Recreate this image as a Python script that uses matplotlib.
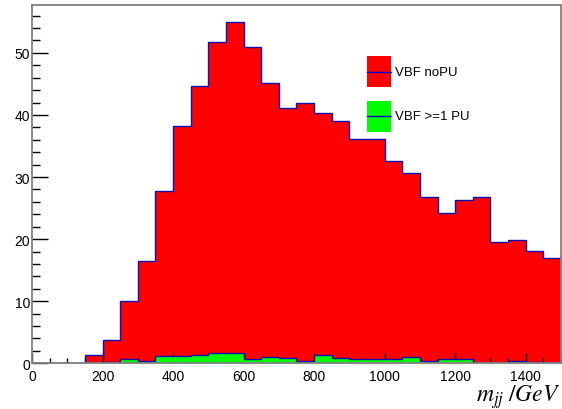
import numpy as np
import matplotlib
matplotlib.use("Agg")
import matplotlib.pyplot as plt
from matplotlib.ticker import MultipleLocator
from matplotlib.patches import Rectangle
from matplotlib.lines import Line2D

# ---- data ----
bin_edges = np.arange(0, 1501, 50)
vbf_nopu = [0, 0, 0.1, 1.4, 3.8, 10.1, 16.5, 27.7, 38.2, 44.6,
            51.7, 55.0, 50.9, 45.2, 41.1, 41.9, 40.3, 39.0, 36.1, 36.2,
            32.6, 30.7, 26.8, 24.2, 26.3, 26.8, 19.6, 19.9, 18.1, 17.0]
vbf_pu = [0, 0, 0, 0, 0.2, 0.7, 0.35, 1.2, 1.2, 1.3,
          1.7, 1.6, 0.65, 1.0, 0.85, 0.4, 1.35, 0.85, 0.7, 0.7,
          0.7, 1.0, 0.4, 0.7, 0.7, 0, 0, 0.4, 0.2, 0]
legend_labels = ["VBF noPU", "VBF >=1 PU"]
xlabel = r"$m_{jj}\;/GeV$"

plt.rcParams['font.family'] = ['Liberation Sans', 'DejaVu Sans']
plt.rcParams['mathtext.fontset'] = 'stix'

fig = plt.figure(figsize=(5.62, 4.10), dpi=100)
ax = fig.add_axes([32/562, 1-364.3/410, (561-32)/562, (364.3-5.7)/410])

edge_col = '#1010b0'
ax.stairs(vbf_nopu, bin_edges, fill=True, facecolor='#ff0000', edgecolor='none', zorder=2)
ax.stairs(vbf_nopu, bin_edges, fill=False, color=edge_col, lw=1.0, zorder=3)
ax.stairs(vbf_pu, bin_edges, fill=True, facecolor='#00ff00', edgecolor='none', zorder=4)
ax.stairs(vbf_pu, bin_edges, fill=False, color=edge_col, lw=1.0, zorder=5)

ax.set_xlim(0, 1500)
ax.set_ylim(0, max(vbf_nopu) * 1.05)

for s in ax.spines.values():
    s.set_color('#808080')
    s.set_linewidth(1.3)
    s.set_zorder(10)

ax.xaxis.set_major_locator(MultipleLocator(200))
ax.xaxis.set_minor_locator(MultipleLocator(50))
ax.yaxis.set_major_locator(MultipleLocator(10))
ax.yaxis.set_minor_locator(MultipleLocator(2))
ax.tick_params(axis='x', which='major', direction='in', length=7.2, width=1.0,
               color='black', labelsize=10, pad=4.0, top=False)
ax.tick_params(axis='x', which='minor', direction='in', length=3.6, width=1.0,
               color='black', top=False)
ax.tick_params(axis='y', which='major', direction='in', length=11.5, width=1.0,
               color='black', labelsize=10, pad=1.5, right=False)
ax.tick_params(axis='y', which='minor', direction='in', length=5.8, width=1.0,
               color='black', right=False)
for t in ax.get_xticklines() + ax.get_yticklines():
    t.set_zorder(11)
ax.set_axisbelow(False)

# legend (ROOT style)
fig_w, fig_h = 562, 410
def fx(px): return px / fig_w
def fy(py): return 1 - py / fig_h
boxes = [(57.3, 88.3, '#ff0000'), (101.7, 132.7, '#00ff00')]
for (y0, y1, col), lab in zip(boxes, legend_labels):
    fig.patches.append(Rectangle((fx(366.7), fy(y1)), fx(390.7) - fx(366.7), fy(y0) - fy(y1),
                                 transform=fig.transFigure, facecolor=col, edgecolor='none', zorder=20))
    ym = fy((y0 + y1) / 2)
    fig.lines.append(Line2D([fx(366.7), fx(390.7)], [ym, ym], transform=fig.transFigure,
                            color='#0000cc', lw=1.0, zorder=21))
    fig.text(fx(395), ym, lab, fontsize=9.5, va='center', ha='left')

fig.text(fx(560), fy(401.5), xlabel, fontsize=17, ha='right', va='baseline')

fig.savefig('out.png', dpi=100)
